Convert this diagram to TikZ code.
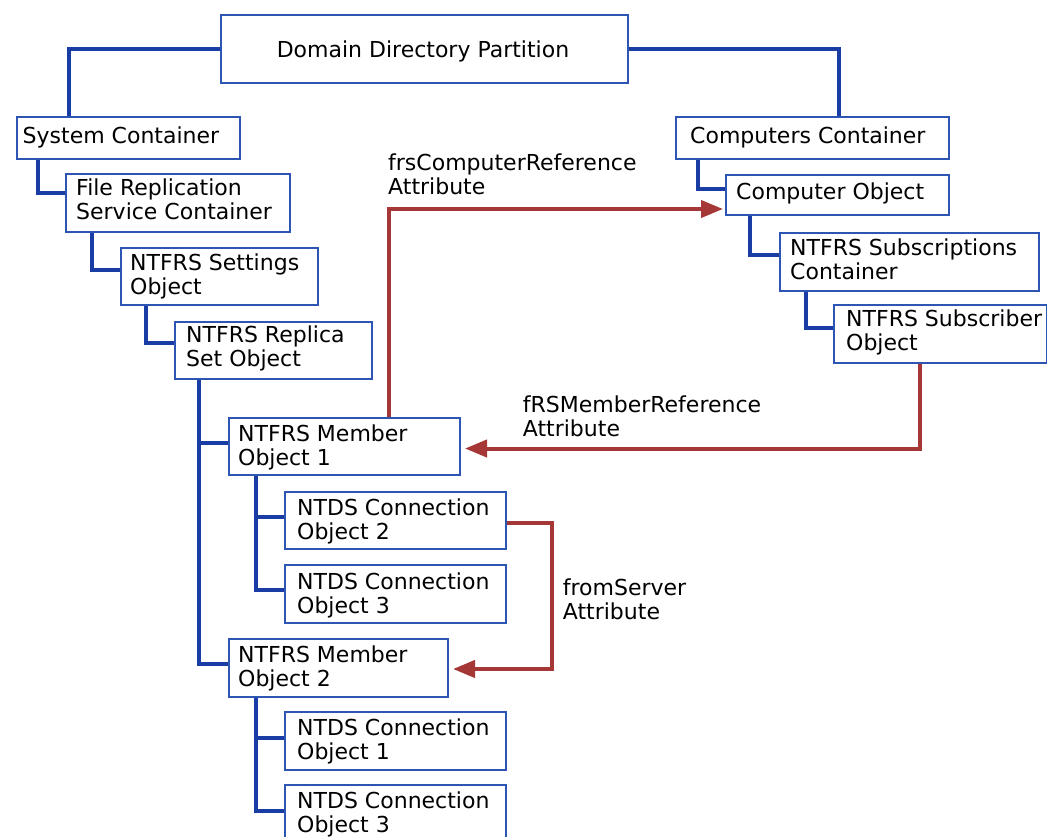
\documentclass[tikz,border=0pt]{standalone}
\usepackage{fontspec}
\setmainfont{DejaVu Sans}
\usetikzlibrary{arrows.meta,backgrounds}
\definecolor{conblue}{RGB}{25,60,165}
\definecolor{boxblue}{RGB}{45,85,180}
\definecolor{refred}{RGB}{165,55,55}
\begin{document}
\begin{tikzpicture}[x=1pt,y=-1pt,
  box/.style 2 args={draw=boxblue,line width=2pt,fill=white,anchor=north west,inner sep=0pt,minimum width=#1,minimum height=#2},
  txt/.style={anchor=north west,inner sep=0pt,align=left,font=\fontsize{22}{24}\selectfont},
  con/.style={draw=conblue,line width=4pt},
  ref/.style={draw=refred,line width=4pt,-{Triangle[length=22pt,width=17pt]}}]
\useasboundingbox (0,0) rectangle (1047,836);
% boxes
\node[box={407}{68}] (dom) at (220,14) {};
\node[box={223}{42}] (sys) at (16,116) {};
\node[box={273}{42}] (comps) at (675,116) {};
\node[box={224}{58}] (frs) at (65,173) {};
\node[box={197}{57}] (set) at (120,247) {};
\node[box={197}{57}] (rep) at (174,321) {};
\node[box={223}{40}] (cobj) at (725,174) {};
\node[box={259}{58}] (subs) at (779,232) {};
\node[box={213}{58}] (subr) at (833,304) {};
\node[box={231}{57}] (mem1) at (228,417) {};
\node[box={221}{57}] (cn2) at (284,491) {};
\node[box={221}{58}] (cn3) at (284,564) {};
\node[box={219}{58}] (mem2) at (228,638) {};
\node[box={221}{58}] (cn1) at (284,711) {};
\node[box={221}{58}] (cn3b) at (284,784) {};
% texts
\node[txt,anchor=north] (domT) at (423,40) {\strut Domain Directory Partition};
\node[txt] (sysT) at (22.5,126.5) {\strut System Container};
\node[txt] (compsT) at (690,126.7) {\strut Computers Container};
\node[txt] (frsT) at (76,178.2) {\strut File Replication\\Service Container};
\node[txt] (setT) at (130,253.2) {\strut NTFRS Settings\\Object};
\node[txt] (repT) at (186,325.9) {\strut NTFRS Replica\\Set Object};
\node[txt] (cobjT) at (736,182.5) {\strut Computer Object};
\node[txt] (subsT) at (790,238.2) {\strut NTFRS Subscriptions\\Container};
\node[txt] (subrT) at (846,309.9) {\strut NTFRS Subscriber\\Object};
\node[txt] (mem1T) at (238,424.2) {\strut NTFRS Member\\Object 1};
\node[txt] (cn2T) at (297,498.2) {\strut NTDS Connection\\Object 2};
\node[txt] (cn3T) at (297,572.5) {\strut NTDS Connection\\Object 3};
\node[txt] (mem2T) at (238,645.9) {\strut NTFRS Member\\Object 2};
\node[txt] (cn1T) at (297,718.2) {\strut NTDS Connection\\Object 1};
\node[txt] (cn3bT) at (297,791.5) {\strut NTDS Connection\\Object 3};
% red labels
\node[txt] (lab1) at (388,153.2) {\strut frsComputerReference\\Attribute};
\node[txt] (lab2) at (522.7,395) {\strut fRSMemberReference\\Attribute};
\node[txt] (lab3) at (562.7,578) {\strut fromServer\\Attribute};
% connectors
\begin{pgfonlayer}{background}
\draw[con] (dom.west) -| ([xshift=53pt]sys.north west);
\draw[con] (dom.east) -| ([xshift=164pt]comps.north west);
\draw[con] ([xshift=22pt]sys.south west) |- ([yshift=-20pt]frs.north west);
\draw[con] ([xshift=27pt]frs.south west) |- ([yshift=-23pt]set.north west);
\draw[con] ([xshift=26pt]set.south west) |- ([yshift=-22pt]rep.north west);
\draw[con] ([xshift=25pt]rep.south west) |- ([yshift=-26pt]mem2.north west);
\draw[con] ([xshift=25pt]rep.south west) |- ([yshift=-26pt]mem1.north west);
\draw[con] ([xshift=28pt]mem1.south west) |- ([yshift=-26pt]cn3.north west);
\draw[con] ([xshift=28pt]mem1.south west) |- ([yshift=-26pt]cn2.north west);
\draw[con] ([xshift=28pt]mem2.south west) |- ([yshift=-27pt]cn3b.north west);
\draw[con] ([xshift=28pt]mem2.south west) |- ([yshift=-27pt]cn1.north west);
\draw[con] ([xshift=23pt]comps.south west) |- ([yshift=-15pt]cobj.north west);
\draw[con] ([xshift=25pt]cobj.south west) |- ([yshift=-23pt]subs.north west);
\draw[con] ([xshift=27pt]subs.south west) |- ([yshift=-24pt]subr.north west);
\end{pgfonlayer}
% reference arrows
\draw[ref,shorten >=2pt] ([xshift=161pt]mem1.north west) |- ([yshift=7pt]cobj.south west);
\draw[ref,shorten >=4pt] ([xshift=87pt]subr.south west) |- ([yshift=-2pt]mem1.east);
\draw[ref,shorten >=4pt] ([yshift=-2pt]cn2.east) -- ++(45,0) |- ([yshift=-1pt]mem2.east);
\end{tikzpicture}
\end{document}
